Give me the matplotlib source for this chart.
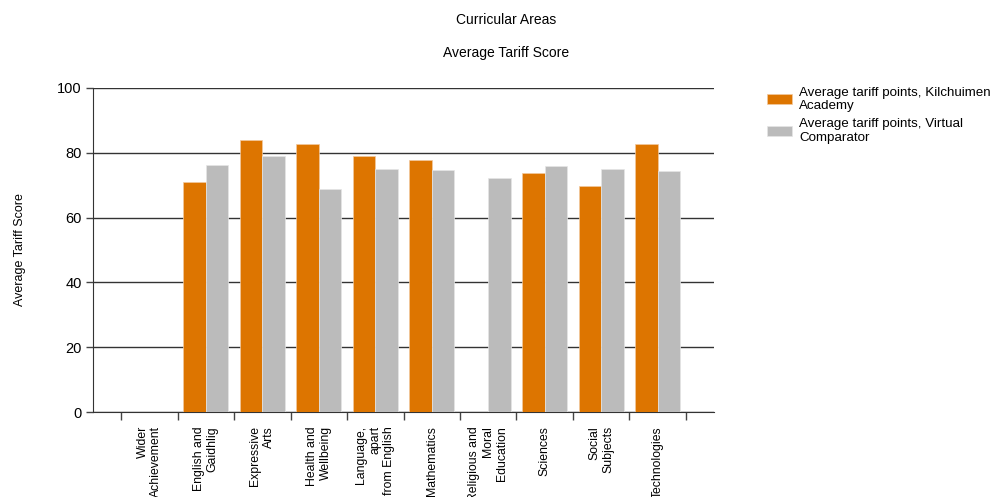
import numpy as np
import matplotlib.pyplot as plt

plt.rcParams['font.family'] = ['Liberation Sans', 'DejaVu Sans']

# === Data ===
categories = [
    "Wider\nAchievement",
    "English and\nGaidhlig",
    "Expressive\nArts",
    "Health and\nWellbeing",
    "Language,\napart\nfrom English",
    "Mathematics",
    "Religious and\nMoral\nEducation",
    "Sciences",
    "Social\nSubjects",
    "Technologies",
]
kilchuimen = [np.nan, 71.0, 83.9, 82.7, 78.9, 77.7, np.nan, 73.9, 69.7, 82.7]
comparator = [np.nan, 76.2, 78.9, 68.9, 75.0, 74.6, 72.3, 75.8, 75.0, 74.3]

orange = '#DD7500'
grey = '#BBBBBB'

fig = plt.figure(figsize=(10, 4.97), dpi=100)
ax = fig.add_axes([0.093, 0.171, 0.621, 0.652])

x = np.arange(len(categories))
w = 0.4
ax.bar(x - w / 2, kilchuimen, w, color=orange, edgecolor='#F2C9A0', linewidth=0.5,
       label='Average tariff points, Kilchuimen\nAcademy', zorder=3)
ax.bar(x + w / 2, comparator, w, color=grey, edgecolor='#E6E6E6', linewidth=0.5,
       label='Average tariff points, Virtual\nComparator', zorder=3)

ax.set_xlim(-1.0, 10.0)
ax.set_ylim(0, 100)
ax.set_yticks([0, 20, 40, 60, 80, 100])
ax.tick_params(axis='y', labelsize=10.5, length=5, width=1, color='#444444', pad=3)
ax.yaxis.grid(True, color='#333333', linewidth=1, zorder=0)

# category labels at centres, tick marks at boundaries
ax.set_xticks(x)
ax.set_xticklabels(categories, rotation=90, fontsize=8.8, va='top', ha='center',
                   multialignment='right')
ax.tick_params(axis='x', which='major', length=0, pad=10)
ax.set_xticks(np.arange(-0.5, len(categories)), minor=True)
ax.tick_params(axis='x', which='minor', length=6, width=1, color='#444444')

for s in ['top', 'right']:
    ax.spines[s].set_visible(False)
ax.spines['left'].set_color('#333333')
ax.spines['bottom'].set_color('#333333')

ax.set_ylabel("Average Tariff Score", fontsize=9)
ax.yaxis.set_label_coords(-0.108, 0.5)

fig.text(0.506, 0.96, "Curricular Areas", ha='center', va='center', fontsize=10)
fig.text(0.506, 0.893, "Average Tariff Score", ha='center', va='center', fontsize=10)

fig.legend(loc='upper left', bbox_to_anchor=(0.755, 0.85), frameon=False,
           fontsize=9.6, handlelength=1.9, handleheight=0.8, labelspacing=0.45,
           handletextpad=0.5)

plt.savefig('out.png', dpi=100)
